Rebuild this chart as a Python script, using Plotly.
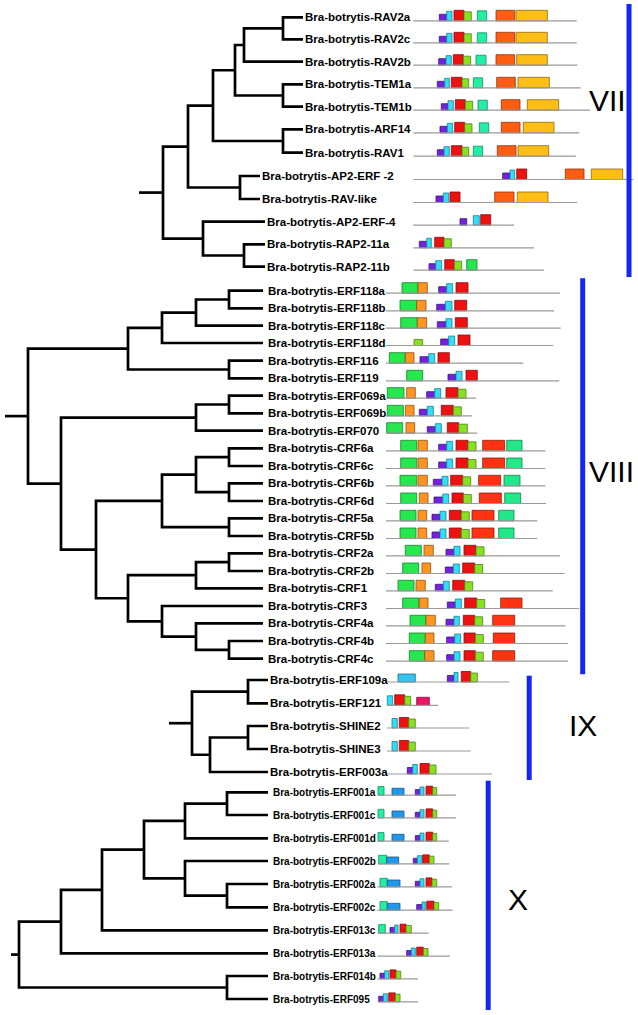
import plotly.graph_objects as go

W, H = 638, 1015

# ---------------- Clade VII ----------------
vii_names = ["Bra-botrytis-RAV2a", "Bra-botrytis-RAV2c", "Bra-botrytis-RAV2b", "Bra-botrytis-TEM1a",
             "Bra-botrytis-TEM1b", "Bra-botrytis-ARF14", "Bra-botrytis-RAV1", "Bra-botrytis-AP2-ERF -2",
             "Bra-botrytis-RAV-like", "Bra-botrytis-AP2-ERF-4", "Bra-botrytis-RAP2-11a", "Bra-botrytis-RAP2-11b"]
vii_y = [17.3, 39.3, 61.7, 84.3, 106.7, 129.3, 152.7, 176, 199, 221.7, 244.3, 266.7]
vii_tip = [303, 303, 303, 303, 303, 303, 303, 260, 260, 265, 265, 265]
vii_tree = (163, [(188, [(213, [(235, [(244, [(283, [0, 1]), 2]), (283, [3, 4])]), (283, [5, 6])]),
                         (240, [7, 8])]),
                  (203, [9, (244, [10, 11])])])
vii_stub = 139
vii_prot_start = 413.3
vii_prot_end = [576.7, 576.7, 577.3, 580.7, 590, 579.3, 576, 633.3, 577.3, 514, 534, 544]
vii_motifs = [
    [("pu", 439.3, 446.7), ("cy", 446.7, 452), ("re", 454, 464), ("li", 464, 471.3), ("tq", 477.3, 486.7), ("or", 496, 514.7), ("go", 516, 547.3)],
    [("pu", 439.3, 446.7), ("cy", 446.7, 452), ("re", 454, 464), ("li", 464, 471.3), ("tq", 477.3, 486.7), ("or", 496, 514.7), ("go", 516, 547.3)],
    [("pu", 438.7, 446), ("cy", 446, 451.3), ("re", 453.3, 463.3), ("li", 463.3, 470.7), ("tq", 476, 486), ("or", 496, 514.7), ("go", 516.7, 547.3)],
    [("pu", 437.3, 444.7), ("cy", 444.7, 449.3), ("re", 451.3, 462), ("li", 462, 468.7), ("tq", 473.3, 482.7), ("or", 496.7, 515.3), ("go", 518, 549.3)],
    [("pu", 441.3, 448), ("cy", 448, 453.3), ("re", 455.3, 465.3), ("li", 465.3, 472.7), ("tq", 478, 487.3), ("or", 501.3, 520), ("go", 527.3, 558.7)],
    [("pu", 440, 447.3), ("cy", 447.3, 452.7), ("re", 454.7, 464.7), ("li", 464.7, 472), ("tq", 479.3, 488.7), ("or", 501.3, 520), ("go", 523.3, 554)],
    [("pu", 437.3, 444), ("cy", 444, 449.3), ("re", 451.3, 462), ("li", 462, 468.7), ("tq", 473.3, 482.7), ("or", 497.3, 516), ("go", 518, 548.7)],
    [("pu", 502.7, 510), ("cy", 510, 514.7), ("re", 516.7, 526.7), ("or", 565.3, 584), ("go", 591.3, 622.7)],
    [("pu", 436, 443.3), ("cy", 443.3, 448.7), ("re", 450, 460), ("or", 494.7, 514), ("go", 517.3, 548)],
    [("pu", 460, 466.7), ("cy", 473.3, 479.3), ("re", 480.7, 490.7)],
    [("pu", 419.3, 426.7), ("cy", 426.7, 431.3), ("re", 434.7, 444), ("li", 444, 451.3)],
    [("pu", 429, 435.7), ("cy", 435.7, 441.7), ("re", 444.7, 454.3), ("li", 454.3, 461.7), ("gr", 466.7, 477)],
]

# ---------------- Clade VIII ----------------
viii_names = ["Bra-botrytis-" + s for s in
              ["ERF118a", "ERF118b", "ERF118c", "ERF118d", "ERF116", "ERF119", "ERF069a", "ERF069b", "ERF070",
               "CRF6a", "CRF6c", "CRF6b", "CRF6d", "CRF5a", "CRF5b", "CRF2a", "CRF2b", "CRF1", "CRF3",
               "CRF4a", "CRF4b", "CRF4c"]]
viii_y = [290.7, 308.3, 325.7, 343, 360.7, 378.3, 395.7, 413.3, 430.7, 448.3, 466, 483.3, 501, 518.3, 536,
          553.3, 571, 588.3, 606, 623.3, 641, 658.7]
viii_tip = [263] * 22
viii_tree = (28, [(128, [(162, [(196, [(229, [0, 1]), 2]), 3]), (229, [4, 5])]),
                  (61, [(196, [(229, [6, 7]), 8]),
                        (96, [(162, [(196, [(229, [9, 10]), (229, [11, 12])]), (229, [13, 14])]),
                              (128, [(196, [(229, [15, 16]), 17]),
                                     (162, [18, (196, [19, (229, [20, 21])])])])])])])
viii_stub = 5
viii_prot_start = 386
viii_prot_end = [560, 554, 560.7, 553.3, 523.3, 559.3, 476, 472, 477.3, 545.3, 545.3, 545.3, 546, 537.3, 537.3,
                 560, 564.7, 552.7, 579.3, 565.3, 568, 568]
viii_motifs = [
    [("gr", 402, 418), ("oa", 418, 427.3), ("pu", 438.7, 446.7), ("cy", 446.7, 452.7), ("re", 456, 468)],
    [("gr", 400, 416.7), ("oa", 416.7, 426), ("pu", 436.7, 445.3), ("cy", 445.3, 452), ("re", 454.7, 466.7)],
    [("gr", 400.7, 417.3), ("oa", 417.3, 426.7), ("pu", 437.3, 446), ("cy", 446, 452), ("re", 455.3, 467.3)],
    [("ls", 414, 422.7), ("pu", 440.7, 448.7), ("cy", 448.7, 454.7), ("re", 458, 470)],
    [("gr", 389.3, 405.3), ("oa", 405.3, 414), ("pu", 420, 428.7), ("cy", 428.7, 434.7), ("re", 438, 449.3)],
    [("gr", 406.7, 422.7), ("pu", 448, 456), ("cy", 456, 462), ("re", 466, 477.3)],
    [("gr", 387.3, 404), ("oa", 406.7, 415.3), ("pu", 426.7, 434.7), ("cy", 434.7, 440.7), ("re", 446, 458), ("li", 458, 466)],
    [("gr", 387.3, 403.3), ("oa", 405.3, 414), ("pu", 419.3, 427.3), ("cy", 427.3, 433.3), ("re", 441.3, 453.3), ("li", 453.3, 461.3)],
    [("gr", 386.7, 402.7), ("oa", 406, 414.7), ("pu", 427.3, 435.3), ("cy", 435.3, 441.3), ("re", 447.3, 458.7), ("li", 458.7, 467.3)],
    [("gr", 400.7, 416.7), ("oa", 418, 427.3), ("pu", 438.7, 446.7), ("cy", 446.7, 452.7), ("re", 456, 468), ("li", 468, 476), ("ro", 482.7, 504.7), ("mg", 506.7, 522)],
    [("gr", 400.7, 416.7), ("oa", 418, 427.3), ("pu", 438.7, 446.7), ("cy", 446.7, 452.7), ("re", 456, 468), ("li", 468, 476), ("ro", 482.7, 504.7), ("mg", 506.7, 522)],
    [("gr", 400, 416.7), ("oa", 418, 427.3), ("pu", 433.3, 442), ("cy", 442, 448), ("re", 450.7, 462.7), ("li", 462.7, 470.7), ("ro", 478.7, 500.7), ("mg", 504, 520)],
    [("gr", 400.7, 416.7), ("oa", 419.3, 428), ("pu", 434, 442.7), ("cy", 442.7, 448.7), ("re", 452, 463.3), ("li", 463.3, 471.3), ("ro", 479.3, 501.3), ("mg", 504.7, 520.7)],
    [("gr", 400, 416), ("oa", 418, 426.7), ("pu", 432, 440), ("cy", 440, 446), ("re", 449.3, 461.3), ("li", 461.3, 469.3), ("ro", 472, 494), ("mg", 498.7, 514)],
    [("gr", 400, 416), ("oa", 418, 426.7), ("pu", 432, 440), ("cy", 440, 446), ("re", 449.3, 461.3), ("li", 461.3, 469.3), ("ro", 472, 494), ("mg", 498.7, 514)],
    [("gr", 405.3, 421.3), ("oa", 424, 433.3), ("pu", 446, 454), ("cy", 454, 460), ("re", 464, 476), ("li", 476, 484)],
    [("gr", 402.7, 418.7), ("oa", 422, 430.7), ("pu", 445.3, 453.3), ("cy", 453.3, 459.3), ("re", 462.7, 474.7), ("li", 474.7, 482.7)],
    [("gr", 398, 414), ("oa", 416, 425.3), ("pu", 435.3, 443.3), ("cy", 443.3, 449.3), ("re", 452.7, 464.7), ("li", 464.7, 472.7)],
    [("gr", 402.7, 418.7), ("oa", 419.3, 428), ("pu", 447.3, 455.3), ("cy", 455.3, 461.3), ("re", 464.7, 476.7), ("li", 476.7, 484.7), ("ro", 500.7, 522)],
    [("gr", 410, 426), ("oa", 426, 435.3), ("pu", 446, 454), ("cy", 454, 459.3), ("re", 463.3, 474.7), ("li", 474.7, 482.7), ("ro", 492.7, 514.7)],
    [("gr", 409.3, 425.3), ("oa", 425.3, 434), ("pu", 446.7, 454.7), ("cy", 454.7, 460.7), ("re", 464, 475.3), ("li", 475.3, 483.3), ("ro", 493.3, 514.7)],
    [("gr", 409.3, 424.7), ("oa", 424.7, 434), ("pu", 446.7, 454), ("cy", 454, 460), ("re", 464, 475.3), ("li", 475.3, 483.3), ("ro", 492.7, 514.7)],
]

# ---------------- Clade IX ----------------
ix_names = ["Bra-botrytis-ERF109a", "Bra-botrytis-ERF121", "Bra-botrytis-SHINE2", "Bra-botrytis-SHINE3",
            "Bra-botrytis-ERF003a"]
ix_y = [680, 703.3, 726, 749, 772]
ix_tip = [268] * 5
ix_tree = (192, [(248, [0, 1]), (210, [(248, [2, 3]), 4])])
ix_stub = 169
ix_prot_start = 387
ix_prot_end = [509.3, 438, 469.3, 470.7, 492]
ix_motifs = [
    [("lb", 398, 415.3), ("pu", 447.3, 454), ("cy", 454, 458), ("re", 461.3, 470.7), ("li", 470.7, 477.3)],
    [("cy", 387.3, 392.7), ("re", 394.7, 404.7), ("li", 404.7, 410.7), ("pk", 416.7, 429.3)],
    [("cy", 392, 397.3), ("re", 399.3, 408.7), ("li", 408.7, 415.3)],
    [("cy", 392, 397.3), ("re", 399.3, 408.7), ("li", 408.7, 415.3)],
    [("pu", 407.3, 412.7), ("cy", 412.7, 417.3), ("re", 420, 429.3), ("li", 429.3, 436)],
]

# ---------------- Clade X ----------------
x_names = ["Bra-botrytis-" + s for s in
           ["ERF001a", "ERF001c", "ERF001d", "ERF002b", "ERF002a", "ERF002c", "ERF013c", "ERF013a",
            "ERF014b", "ERF095"]]
x_y = [792.3, 815, 838.3, 861, 884, 907.3, 930.3, 953.3, 976, 999]
x_tip = [268] * 10
x_tree = (19, [(61, [(102, [(144, [(185, [(227, [0, 1]), 2]), (185, [3, (227, [4, 5])])]), 6]), 7]),
               (227, [8, 9])])
x_stub = 11
x_prot_start = 377.5
x_prot_end = [456, 456, 448.7, 449.3, 452, 452.7, 428.7, 450, 418, 418]
x_motifs = [
    [("tq", 378, 384), ("bl", 392, 404), ("pu", 415.3, 420), ("cy", 420, 424), ("re", 426, 432.7), ("li", 432.7, 436.7)],
    [("tq", 378, 384), ("bl", 392, 404), ("pu", 415.3, 420), ("cy", 420, 424), ("re", 426, 432.7), ("li", 432.7, 436.7)],
    [("tq", 378, 384), ("bl", 392, 404), ("pu", 415.3, 420), ("cy", 420, 424), ("re", 426, 432.7), ("li", 432.7, 436.7)],
    [("tq", 378.7, 386.7), ("bl", 386.7, 398.7), ("pu", 413.3, 417.3), ("cy", 417.3, 422), ("re", 422.7, 429.3), ("li", 429.3, 434)],
    [("tq", 380, 387.3), ("bl", 387.3, 400), ("pu", 415.3, 420), ("cy", 420, 424), ("re", 426, 432), ("li", 432, 436.7)],
    [("tq", 380, 387.3), ("bl", 387.3, 400), ("pu", 416.7, 422), ("cy", 422, 425.3), ("re", 426.7, 434), ("li", 434, 438.7)],
    [("tq", 378.7, 385.3), ("pu", 390, 394.7), ("cy", 394.7, 398), ("re", 400, 406), ("li", 406, 411.3)],
    [("pu", 406.7, 411.3), ("cy", 411.3, 415.3), ("re", 416.7, 423.3), ("li", 423.3, 428)],
    [("pu", 380, 384.7), ("cy", 384.7, 388.7), ("re", 390, 396), ("li", 396, 400.7)],
    [("pu", 378.7, 383.3), ("cy", 383.3, 387.3), ("re", 388.7, 395.3), ("li", 395.3, 400)],
]

# clade brackets and numerals
clade_labels = ["VII", "VIII", "IX", "X"]
bracket_x = [629, 582.7, 529.2, 488.2]
bracket_top = [4, 278.3, 675.7, 780.7]
bracket_bottom = [277, 674.3, 780, 1010]
numeral_x = [607.5, 611, 583, 518.3]
numeral_y = [100, 471, 725, 899]

# motif styling
motif_color = {"pu": "#7322DC", "cy": "#33DDF6", "re": "#EE1111", "li": "#88E022", "ls": "#88E022",
               "tq": "#22EEA4", "or": "#FF5E12", "go": "#FFBE16", "gr": "#26E84E", "oa": "#FF9422",
               "ro": "#FF3312", "mg": "#22E88A", "lb": "#33C4F0", "bl": "#2298EC", "pk": "#EE1468"}
motif_edge = {"pu": "#3F0F80", "cy": "#168096", "re": "#8A0A0A", "li": "#4E8412", "ls": "#4E8412",
              "tq": "#138A5E", "or": "#8E340A", "go": "#8E6A0C", "gr": "#14822B", "oa": "#8E5212",
              "ro": "#8E1C0A", "mg": "#13824C", "lb": "#1B6E88", "bl": "#135486", "pk": "#860B3A"}
motif_h = {"pu": 6.5, "cy": 9.5, "re": 10.5, "li": 9, "ls": 6, "tq": 10, "or": 10.5, "go": 10.5,
           "gr": 10.5, "oa": 10.5, "ro": 10.5, "mg": 10.5, "lb": 8, "bl": 8, "pk": 8}

clades = [
    dict(names=vii_names, y=vii_y, tip=vii_tip, tree=vii_tree, stub=vii_stub, ps=vii_prot_start,
         pe=vii_prot_end, motifs=vii_motifs, off=3.5, hs=1.0, fs=11.5, lab_dx=1.0),
    dict(names=viii_names, y=viii_y, tip=viii_tip, tree=viii_tree, stub=viii_stub, ps=viii_prot_start,
         pe=viii_prot_end, motifs=viii_motifs, off=2.5, hs=1.0, fs=11.5, lab_dx=4.0),
    dict(names=ix_names, y=ix_y, tip=ix_tip, tree=ix_tree, stub=ix_stub, ps=ix_prot_start,
         pe=ix_prot_end, motifs=ix_motifs, off=2.0, hs=1.0, fs=11.5, lab_dx=1.0),
    dict(names=x_names, y=x_y, tip=x_tip, tree=x_tree, stub=x_stub, ps=x_prot_start,
         pe=x_prot_end, motifs=x_motifs, off=2.8, hs=0.85, fs=10, lab_dx=4.0),
]

fig = go.Figure()

# protein backbones
gx, gy = [], []
for c in clades:
    for yy, e in zip(c["y"], c["pe"]):
        b = yy + c["off"]
        gx += [c["ps"], e, None]
        gy += [b, b, None]
fig.add_trace(go.Scatter(x=gx, y=gy, mode="lines", line=dict(color="#9A9A9A", width=1.2),
                         hoverinfo="skip", showlegend=False))

# motif boxes
bars = {}
for c in clades:
    for yy, ms in zip(c["y"], c["motifs"]):
        b = yy + c["off"]
        for t, s, e in ms:
            h = motif_h[t] * c["hs"]
            d = bars.setdefault(t, dict(base=[], x=[], y=[], w=[]))
            d["base"].append(s)
            d["x"].append(e - s)
            d["y"].append(b - h / 2)
            d["w"].append(h)
for t, d in bars.items():
    fig.add_trace(go.Bar(orientation="h", base=d["base"], x=d["x"], y=d["y"], width=d["w"],
                         marker=dict(color=motif_color[t], line=dict(color=motif_edge[t], width=0.8)),
                         hoverinfo="skip", showlegend=False))

# tree branches
tx, ty = [], []


def walk(node, c):
    if isinstance(node, int):
        return c["tip"][node], c["y"][node]
    x, kids = node
    pts = [walk(k, c) for k in kids]
    (x1, y1), (x2, y2) = pts[0], pts[-1]
    tx.extend([x1, x, x, x2, None])
    ty.extend([y1, y1, y2, y2, None])
    for kx, ky in pts[1:-1]:
        tx.extend([x, kx, None])
        ty.extend([ky, ky, None])
    return x, (y1 + y2) / 2


for c in clades:
    rx, ry = walk(c["tree"], c)
    tx.extend([c["stub"], rx, None])
    ty.extend([ry, ry, None])
fig.add_trace(go.Scatter(x=tx, y=ty, mode="lines", line=dict(color="black", width=2.7),
                         hoverinfo="skip", showlegend=False))

# clade brackets
bx, by = [], []
for x, t, b in zip(bracket_x, bracket_top, bracket_bottom):
    bx += [x, x, None]
    by += [t, b, None]
fig.add_trace(go.Scatter(x=bx, y=by, mode="lines", line=dict(color="#1426F0", width=5),
                         hoverinfo="skip", showlegend=False))

annotations = []
for c in clades:
    for name, yy, tp in zip(c["names"], c["y"], c["tip"]):
        annotations.append(dict(x=tp + c["lab_dx"], y=yy, xref="x", yref="y", text=name, showarrow=False,
                                xanchor="left", yanchor="middle", borderpad=0,
                                font=dict(family="Liberation Sans, Arial, sans-serif", size=c["fs"],
                                          color="black", weight="bold")))
for lab, x, y in zip(clade_labels, numeral_x, numeral_y):
    annotations.append(dict(x=x, y=y, xref="x", yref="y", text=lab, showarrow=False,
                            xanchor="center", yanchor="middle",
                            font=dict(family="Liberation Sans, Arial, sans-serif", size=30, color="black")))

fig.update_layout(
    width=W, height=H, margin=dict(l=0, r=0, t=0, b=0),
    paper_bgcolor="white", plot_bgcolor="white",
    barmode="overlay", bargap=0,
    xaxis=dict(range=[0, W], visible=False, fixedrange=True),
    yaxis=dict(range=[H, 0], visible=False, fixedrange=True),
    annotations=annotations,
    showlegend=False,
)

fig.write_html(
    "out.html",
    config={"displayModeBar": False, "staticPlot": True},
    post_script="document.body.style.margin='0';document.body.style.padding='0';"
                "document.body.style.overflow='hidden';",
)
